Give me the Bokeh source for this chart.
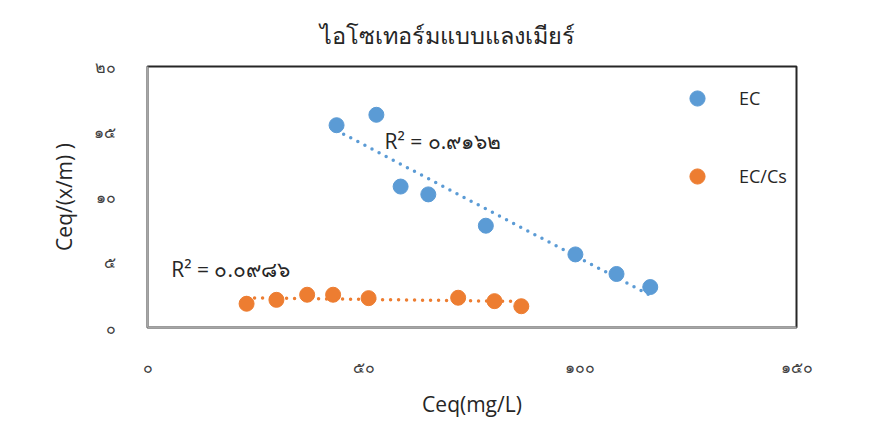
import numpy as np
from bokeh.plotting import figure
from bokeh.models import Legend, LegendItem, Label, FixedTicker, Range1d
from bokeh.embed import file_html
from bokeh.resources import INLINE

# ---- data ----
ec_x = [43.7, 52.9, 58.5, 64.9, 78.2, 98.9, 108.4, 116.2]
ec_y = [15.5, 16.3, 10.8, 10.2, 7.8, 5.6, 4.1, 3.1]
eccs_x = [22.9, 29.8, 36.9, 42.9, 51.1, 71.8, 80.2, 86.4]
eccs_y = [1.82, 2.12, 2.51, 2.51, 2.25, 2.28, 2.02, 1.63]
series_names = ["EC", "EC/Cs"]
r2_labels = ["R² = ๐.๙๑๖๒", "R² = ๐.๐๙๘๖"]
x_ticks = [0, 50, 100, 150]
x_tick_labels = ["๐", "๕๐", "๑๐๐", "๑๕๐"]
y_ticks = [0, 5, 10, 15, 20]
y_tick_labels = ["๐", "๕", "๑๐", "๑๕", "๒๐"]
title_text = "ไอโซเทอร์มแบบแลงเมียร์"
x_label = "Ceq(mg/L)"
y_label = "Ceq/(x/m) )"

BLUE = "#5B9BD5"
ORANGE = "#ED7D31"
FONT = "Open Sans"

p = figure(output_backend="svg", toolbar_location=None,
           frame_width=649, frame_height=261,
           min_border_left=147, min_border_right=57,
           min_border_top=66, min_border_bottom=82,
           x_range=Range1d(0, 150), y_range=Range1d(0, 20))

p.title.text = title_text
p.title.align = "left"
p.title.text_font_size = "23.5px"
p.title.text_font_style = "normal"
p.title.text_color = "#262626"
p.title.text_font = FONT
p.title.offset = 172
p.title.standoff = 30
p.title.vertical_align = "middle"

p.grid.visible = False
p.outline_line_color = "#262626"
p.outline_line_width = 2

for ax in (p.xaxis[0], p.yaxis[0]):
    ax.axis_line_color = "#a6a6a6"
    ax.axis_line_width = 2
    ax.major_tick_line_color = None
    ax.minor_tick_line_color = None
    ax.major_label_text_font_size = "16px"
    ax.major_label_text_color = "#404040"
    ax.major_label_text_font = FONT
    ax.axis_label_text_font = FONT
    ax.axis_label_text_font_style = "normal"
    ax.axis_label_text_color = "#262626"
    ax.axis_label_text_font_size = "21px"

p.xaxis.ticker = FixedTicker(ticks=x_ticks)
p.xaxis.major_label_overrides = {t: l for t, l in zip(x_ticks, x_tick_labels)}
p.yaxis.ticker = FixedTicker(ticks=y_ticks)
p.yaxis.major_label_overrides = {t: l for t, l in zip(y_ticks, y_tick_labels)}
p.xaxis.major_label_standoff = 22
p.yaxis.major_label_standoff = 26
p.xaxis.axis_label = x_label
p.yaxis.axis_label = y_label
p.xaxis.axis_label_standoff = 9
p.yaxis.axis_label_standoff = 13

# trendlines from linear fit
items = []
for xs, ys, col, name, lab, pos in [
    (ec_x, ec_y, BLUE, series_names[0], r2_labels[0], (54.8, 14.3)),
    (eccs_x, eccs_y, ORANGE, series_names[1], r2_labels[1], (5.5, 4.5)),
]:
    xa, ya = np.array(xs), np.array(ys)
    m, b = np.polyfit(xa, ya, 1)
    lx = np.array([xa.min(), xa.max()])
    p.line(lx, m * lx + b, line_color=col, line_width=3.5, line_dash="0 8", line_cap="round")
    r = p.scatter(xs, ys, size=15, fill_color=col, line_color=col, marker="circle")
    items.append(LegendItem(label=name, renderers=[r]))
    p.add_layout(Label(x=pos[0], y=pos[1], text=lab, text_font=FONT, text_font_size="21px",
                       text_color="#262626", text_baseline="middle"))

legend = Legend(items=items, location=(531, 132), padding=0, margin=0,
                glyph_width=38, glyph_height=38, spacing=40, label_standoff=23,
                label_text_font=FONT, label_text_font_size="18px", label_text_color="#262626",
                border_line_color=None, background_fill_alpha=0)
p.add_layout(legend, "center")

open("out.html", "w").write(file_html(p, INLINE))
